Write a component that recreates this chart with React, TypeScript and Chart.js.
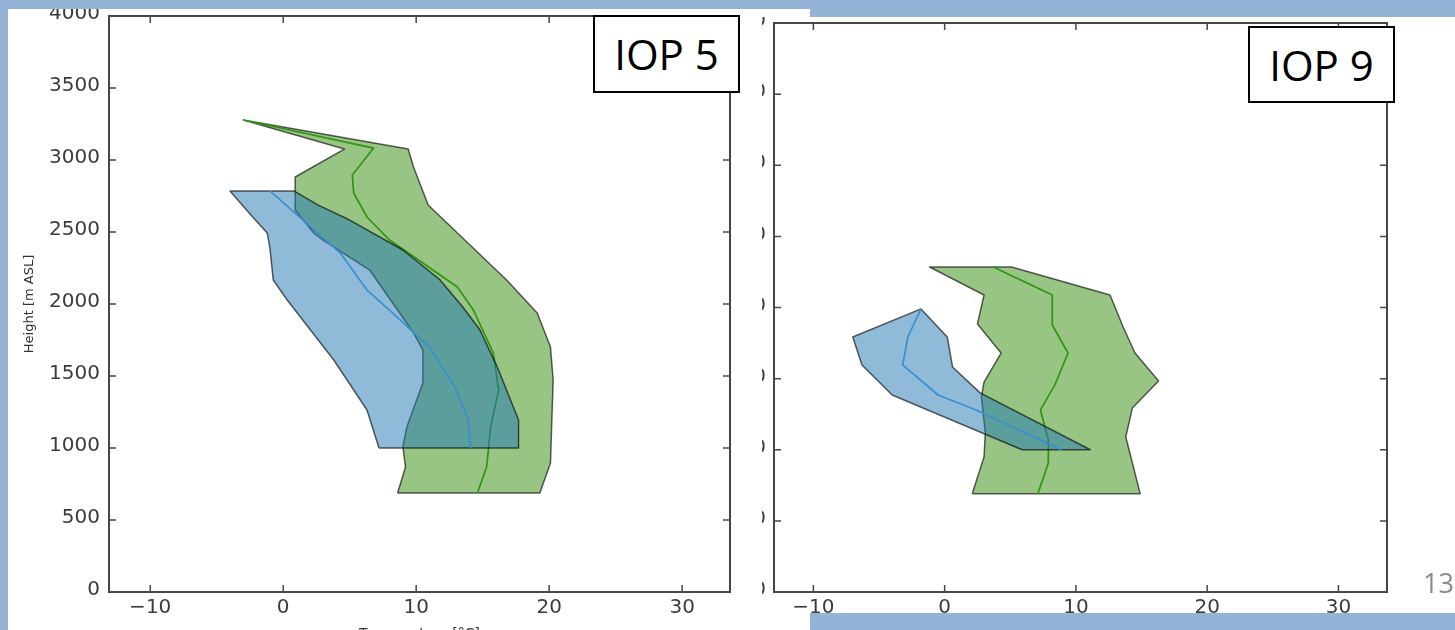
import React, { useEffect, useRef } from "react";
import { Chart, registerables } from "chart.js";
Chart.register(...registerables);

// ---- axis ticks ----
const xTicks = [-10, 0, 10, 20, 30];
const yTicks = [0, 500, 1000, 1500, 2000, 2500, 3000, 3500, 4000];

// ---- IOP 5 (left panel) ----
const iop5BlueLowerH = [1000, 1264, 1611, 2028, 2167, 2389, 2493, 2604, 2785];
const iop5BlueLowerT = [7.2, 6.3, 3.8, 0.3, -0.75, -1.0, -1.2, -2.3, -4.0];
const iop5BlueUpperH = [1000, 1194, 1563, 1819, 1979, 2167, 2375, 2583, 2688, 2785];
const iop5BlueUpperT = [17.7, 17.7, 16.1, 14.8, 13.5, 11.8, 9.0, 5.0, 2.6, 0.8];
const iop5BlueMeanH = [1000, 1200, 1424, 1701, 1958, 2097, 2354, 2785];
const iop5BlueMeanT = [14.1, 13.9, 12.9, 11.0, 8.0, 6.3, 4.3, -1.0];

const iop5GreenLowerH = [688, 868, 1007, 1146, 1451, 1681, 1799, 1958, 2236, 2444, 2493, 2653, 2882, 3076, 3278];
const iop5GreenLowerT = [8.6, 9.2, 9.0, 9.3, 10.5, 10.5, 9.8, 8.6, 6.5, 3.0, 2.3, 0.9, 0.9, 4.6, -3.0];
const iop5GreenUpperH = [688, 896, 1472, 1701, 1938, 2167, 2688, 2951, 3076, 3278];
const iop5GreenUpperT = [19.3, 20.1, 20.3, 20.1, 19.1, 16.8, 10.9, 9.8, 9.4, -3.0];
const iop5GreenMeanH = [688, 868, 1146, 1403, 1660, 1958, 2118, 2285, 2444, 2604, 2771, 2896, 3083, 3278];
const iop5GreenMeanT = [14.6, 15.3, 15.6, 16.2, 15.8, 14.3, 13.1, 10.5, 8.0, 6.3, 5.3, 5.2, 6.8, -3.0];

// ---- IOP 9 (right panel) ----
const iop9BlueLowerH = [1000, 1385, 1596, 1793, 1990];
const iop9BlueLowerT = [5.9, -4.0, -6.3, -7.0, -1.8];
const iop9BlueUpperH = [1000, 1400, 1582, 1793, 1990];
const iop9BlueUpperT = [11.1, 2.7, 0.6, 0.2, -1.8];
const iop9BlueMeanH = [1000, 1280, 1385, 1596, 1793, 1990];
const iop9BlueMeanT = [8.9, 2.4, -0.5, -3.2, -2.8, -1.8];

const iop9GreenLowerH = [690, 950, 1118, 1371, 1476, 1680, 1884, 2088, 2285];
const iop9GreenLowerT = [2.1, 3.0, 3.1, 2.8, 3.0, 4.3, 2.5, 3.0, -1.15];
const iop9GreenUpperH = [690, 1090, 1293, 1483, 1680, 1863, 2088, 2285];
const iop9GreenUpperT = [14.9, 13.8, 14.3, 16.3, 14.5, 13.6, 12.6, 5.1];
const iop9GreenMeanH = [690, 907, 1069, 1280, 1456, 1680, 1877, 2088, 2285];
const iop9GreenMeanT = [7.1, 7.9, 7.9, 7.3, 8.4, 9.4, 8.2, 8.2, 3.7];

// ---- styles ----
const BG = "#95b3d7";
const BLUE_FILL = "rgba(31,119,180,0.5)";
const GREEN_FILL = "rgba(50,140,10,0.5)";
const EDGE = "rgba(0,0,0,0.62)";
const BLUE_MEAN = "#3a8fcf";
const GREEN_MEAN = "#2e9612";
const TICK_COLOR = "#3c3c3c";

const pts = (h: number[], t: number[]) => h.map((v, i) => ({ x: t[i], y: v }));
function band(lh: number[], lt: number[], uh: number[], ut: number[]) {
  const lower = pts(lh, lt);
  const upper = pts(uh, ut).reverse();
  return [...lower, ...upper, lower[0]];
}

function makeDatasets(
  bl: [number[], number[]], bu: [number[], number[]], bm: [number[], number[]],
  gl: [number[], number[]], gu: [number[], number[]], gm: [number[], number[]]
) {
  return [
    { label: "blue mean", data: pts(bm[0], bm[1]), borderColor: BLUE_MEAN, borderWidth: 1.7, fill: false, order: 0 },
    { label: "blue band", data: band(bl[0], bl[1], bu[0], bu[1]), borderColor: EDGE, borderWidth: 1.5, backgroundColor: BLUE_FILL, fill: "shape", order: 1 },
    { label: "green mean", data: pts(gm[0], gm[1]), borderColor: GREEN_MEAN, borderWidth: 1.7, fill: false, order: 2 },
    { label: "green band", data: band(gl[0], gl[1], gu[0], gu[1]), borderColor: EDGE, borderWidth: 1.5, backgroundColor: GREEN_FILL, fill: "shape", order: 3 },
  ];
}

const fmt = (v: number) => (v < 0 ? "\u2212" + Math.abs(v) : String(v));

type PanelProps = {
  width: number; height: number;
  padTop: number; padRight: number;
  yAxisWidth: number; xAxisHeight: number;
  xMin: number; xMax: number;
  yLabelPad: number; xLabelPad: number;
  yTitle?: string; yTitlePad?: number;
  xTitle?: string; xTitlePad?: number;
  datasets: any[];
  style: React.CSSProperties;
};

function Panel(p: PanelProps) {
  const ref = useRef<HTMLCanvasElement>(null);
  useEffect(() => {
    const frame = {
      id: "frame",
      afterDraw(chart: any) {
        const { ctx, chartArea: a, scales } = chart;
        const sx = scales.x, sy = scales.y;
        ctx.save();
        ctx.strokeStyle = "#464646";
        ctx.lineWidth = 1.5;
        ctx.beginPath();
        for (const v of xTicks) {
          const px = sx.getPixelForValue(v);
          ctx.moveTo(px, a.bottom); ctx.lineTo(px, a.bottom - 7);
          ctx.moveTo(px, a.top); ctx.lineTo(px, a.top + 7);
        }
        for (const v of yTicks) {
          const py = sy.getPixelForValue(v);
          ctx.moveTo(a.left, py); ctx.lineTo(a.left + 7, py);
          ctx.moveTo(a.right, py); ctx.lineTo(a.right - 7, py);
        }
        ctx.stroke();
        ctx.lineWidth = 2;
        ctx.strokeRect(a.left, a.top, a.right - a.left, a.bottom - a.top);
        ctx.restore();
      },
    };
    const zeroPad = (s: any) => { s.paddingLeft = 0; s.paddingRight = 0; s.paddingTop = 0; s.paddingBottom = 0; };
    const chart = new Chart(ref.current as HTMLCanvasElement, {
      type: "line",
      data: { datasets: p.datasets },
      options: {
        responsive: false,
        animation: false,
        layout: { padding: { top: p.padTop, right: p.padRight, left: 0, bottom: 0 } },
        plugins: { legend: { display: false }, tooltip: { enabled: false }, title: { display: false } },
        elements: { point: { radius: 0, hoverRadius: 0 }, line: { tension: 0, borderJoinStyle: "round" } },
        scales: {
          x: {
            type: "linear", min: p.xMin, max: p.xMax,
            grid: { display: false, drawTicks: false }, border: { display: false },
            afterBuildTicks: (s: any) => { s.ticks = xTicks.map((v) => ({ value: v })); },
            afterFit: (s: any) => { s.height = p.xAxisHeight; zeroPad(s); },
            ticks: { padding: p.xLabelPad, color: TICK_COLOR, font: { family: "DejaVu Sans", size: 20 }, maxRotation: 0, minRotation: 0, autoSkip: false, callback: (v: any) => fmt(Number(v)) },
            title: { display: !!p.xTitle, text: p.xTitle || "", color: "#333", font: { family: "DejaVu Sans", size: 14 }, padding: { top: 0, bottom: p.xTitlePad || 0 } },
          },
          y: {
            type: "linear", min: 0, max: 4000,
            grid: { display: false, drawTicks: false }, border: { display: false },
            afterBuildTicks: (s: any) => { s.ticks = yTicks.map((v) => ({ value: v })); },
            afterFit: (s: any) => { s.width = p.yAxisWidth; zeroPad(s); },
            ticks: { padding: p.yLabelPad, labelOffset: -2, color: TICK_COLOR, font: { family: "DejaVu Sans", size: 20 }, autoSkip: false, callback: (v: any) => fmt(Number(v)) },
            title: { display: !!p.yTitle, text: p.yTitle || "", color: "#333", font: { family: "DejaVu Sans", size: 13 }, padding: { top: p.yTitlePad || 0, bottom: 0 } },
          },
        },
      } as any,
      plugins: [frame as any],
    });
    return () => chart.destroy();
  }, []);
  return <canvas ref={ref} width={p.width} height={p.height} style={p.style} />;
}

export default function App() {
  const leftSets = makeDatasets(
    [iop5BlueLowerH, iop5BlueLowerT], [iop5BlueUpperH, iop5BlueUpperT], [iop5BlueMeanH, iop5BlueMeanT],
    [iop5GreenLowerH, iop5GreenLowerT], [iop5GreenUpperH, iop5GreenUpperT], [iop5GreenMeanH, iop5GreenMeanT]
  );
  const rightSets = makeDatasets(
    [iop9BlueLowerH, iop9BlueLowerT], [iop9BlueUpperH, iop9BlueUpperT], [iop9BlueMeanH, iop9BlueMeanT],
    [iop9GreenLowerH, iop9GreenLowerT], [iop9GreenUpperH, iop9GreenUpperT], [iop9GreenMeanH, iop9GreenMeanT]
  );
  const boxStyle: React.CSSProperties = {
    position: "absolute", boxSizing: "border-box", border: "2px solid #000", background: "#fff",
    display: "flex", alignItems: "center", justifyContent: "center",
    fontFamily: "'Open Sans', sans-serif", fontSize: 42, lineHeight: 1, color: "#000",
  };
  return (
    <div style={{ position: "fixed", left: 0, top: 0, width: 1455, height: 630, background: BG, overflow: "hidden" }}>
      <div style={{ position: "absolute", left: 8, top: 9, width: 802, height: 621, background: "#fff", overflow: "hidden" }}>
        <Panel
          width={802} height={640} padTop={7} padRight={80} yAxisWidth={101} xAxisHeight={57}
          xMin={-13.1} xMax={33.6} yLabelPad={9} xLabelPad={4}
          yTitle="Height [m ASL]" yTitlePad={14} xTitle="Temperature [°C]" xTitlePad={6}
          datasets={leftSets} style={{ position: "absolute", left: 0, top: 0 }}
        />
      </div>
      <div style={{ position: "absolute", left: 762, top: 17, width: 693, height: 596, background: "#fff", overflow: "hidden" }}>
        <Panel
          width={755} height={620} padTop={6} padRight={68} yAxisWidth={74} xAxisHeight={45}
          xMin={-13.0} xMax={33.7} yLabelPad={8} xLabelPad={4}
          datasets={rightSets} style={{ position: "absolute", left: -62, top: 0 }}
        />
        <div style={{ position: "absolute", left: 661, top: 552, fontFamily: "'Open Sans', sans-serif", fontSize: 27, lineHeight: 1, color: "#8c8c8c" }}>13</div>
      </div>
      <div style={{ ...boxStyle, left: 593, top: 15, width: 147, height: 78 }}>IOP 5</div>
      <div style={{ ...boxStyle, left: 1248, top: 26, width: 147, height: 77 }}>IOP 9</div>
    </div>
  );
}
